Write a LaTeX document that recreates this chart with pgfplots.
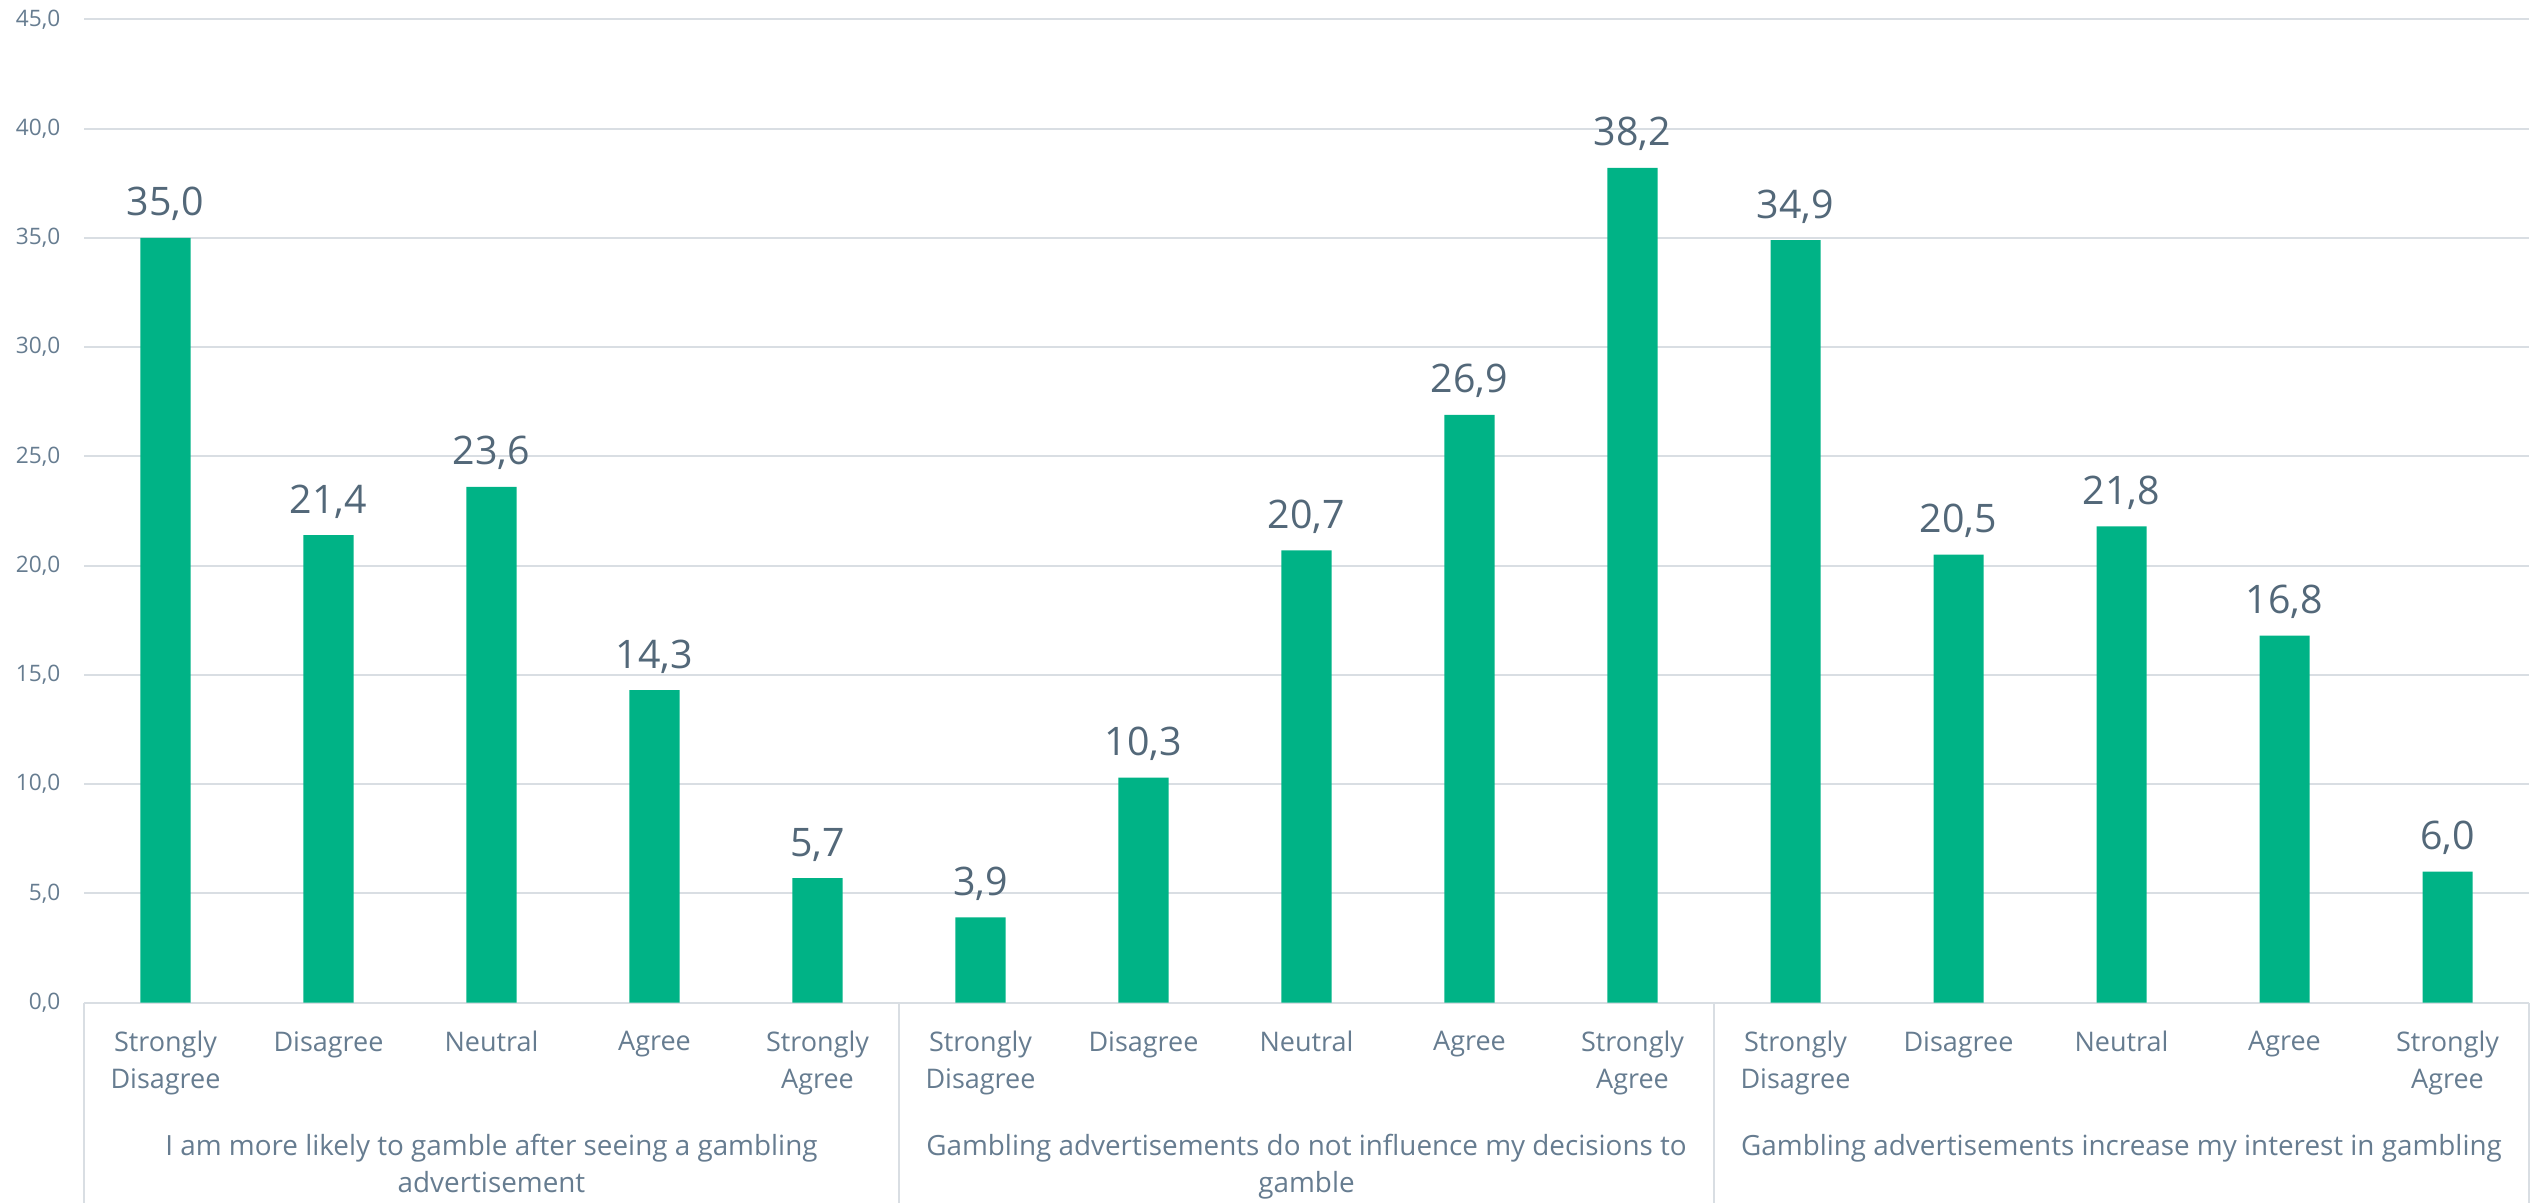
\documentclass[border=0pt]{standalone}
\usepackage{pgfplots}
\pgfplotsset{compat=1.18}
\usepackage{fontspec}
\setmainfont{Open Sans}
\definecolor{barc}{HTML}{00B386}
\definecolor{txt}{HTML}{667C90}
\definecolor{val}{HTML}{536879}
\definecolor{gridc}{HTML}{D9DEE3}
\begin{document}
\begin{tikzpicture}
\begin{axis}[
  width=733.5pt, height=295pt, scale only axis,
  xmin=-0.5, xmax=14.5, ymin=0, ymax=45,
  ytick={0,5,...,45},
  xtick={0,...,14},
  xticklabels={{Strongly\\Disagree},Disagree,Neutral,Agree,{Strongly\\Agree},
               {Strongly\\Disagree},Disagree,Neutral,Agree,{Strongly\\Agree},
               {Strongly\\Disagree},Disagree,Neutral,Agree,{Strongly\\Agree}},
  ymajorgrids, grid style={draw=gridc, line width=0.6pt},
  axis line style={draw=none},
  major tick length=0pt,
  clip=false,
  /pgf/number format/assume math mode=true,
  yticklabel style={font=\fontsize{6.8}{7.5}\selectfont, text=txt, anchor=east, inner sep=0pt, xshift=-6.9pt,
    /pgf/number format/.cd, fixed, fixed zerofill, precision=1, use comma},
  xticklabel style={font=\fontsize{8.1}{11.1}\selectfont, text=txt, align=center, anchor=north, inner sep=0pt, yshift=-8.4pt},
  nodes near coords={\pgfmathprintnumber[fixed,fixed zerofill,precision=1,use comma,assume math mode=true]{\pgfplotspointmeta}},
  nodes near coords style={font=\fontsize{11.8}{13}\selectfont, text=val, anchor=base, inner sep=0pt, yshift=6.6pt},
]
\addplot[ybar, bar width=0.307, fill=barc, draw=none] coordinates {
 (0,35.0) (1,21.4) (2,23.6) (3,14.3) (4,5.7)
 (5,3.9) (6,10.3) (7,20.7) (8,26.9) (9,38.2)
 (10,34.9) (11,20.5) (12,21.8) (13,16.8) (14,6.0)};
\coordinate (sw) at (rel axis cs:0,0);
\coordinate (ne) at (rel axis cs:1,1);
\draw[gridc, line width=0.6pt] (axis cs:-0.5,0) -- ([yshift=-60pt]axis cs:-0.5,0);
\draw[gridc, line width=0.6pt] (axis cs:4.5,0) -- ([yshift=-60pt]axis cs:4.5,0);
\draw[gridc, line width=0.6pt] (axis cs:9.5,0) -- ([yshift=-60pt]axis cs:9.5,0);
\draw[gridc, line width=0.6pt] (axis cs:14.5,0) -- ([yshift=-60pt]axis cs:14.5,0);
\node[font=\fontsize{8.35}{11.1}\selectfont, text=txt, align=center, anchor=north, inner sep=0pt] at ([yshift=-39.3pt]axis cs:2,0) {I am more likely to gamble after seeing a gambling\\advertisement};
\node[font=\fontsize{8.35}{11.1}\selectfont, text=txt, align=center, anchor=north, inner sep=0pt] at ([yshift=-39.3pt]axis cs:7,0) {Gambling advertisements do not influence my decisions to\\gamble};
\node[font=\fontsize{8.35}{11.1}\selectfont, text=txt, align=center, anchor=north, inner sep=0pt] at ([yshift=-39.3pt]axis cs:12,0) {Gambling advertisements increase my interest in gambling};
\end{axis}
\pgfresetboundingbox
\path[use as bounding box] ([xshift=-25.2pt,yshift=-60pt]sw) rectangle ([xshift=1.5pt,yshift=5.8pt]ne);
\end{tikzpicture}
\end{document}
